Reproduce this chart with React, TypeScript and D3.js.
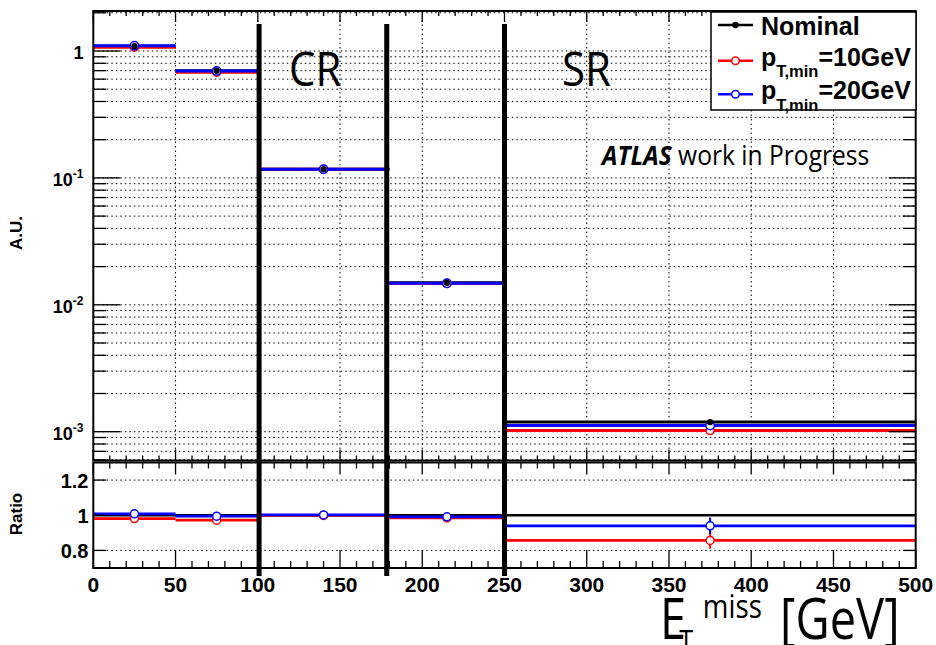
import React from "react";
import * as d3 from "d3";

// ---------- data ----------
const binEdges = [0, 50, 100, 180, 250, 500];
const binCenters = [25, 75, 140, 215, 375];
const nominal = [1.09, 0.70, 0.117, 0.0149, 0.00119];
const pt10 = [1.07, 0.68, 0.117, 0.0147, 0.00102];
const pt20 = [1.10, 0.697, 0.117, 0.0148, 0.00112];
const ratio10 = [0.981, 0.972, 0.999, 0.985, 0.857];
const ratio20 = [1.008, 0.995, 1.002, 0.991, 0.94];
const ratio10Err = [0.004, 0.005, 0.003, 0.012, 0.047];
const ratio20Err = [0.004, 0.005, 0.003, 0.01, 0.047];
const regionLines = [100.8, 178.4, 250];
const xMajorTicks = [0, 50, 100, 150, 200, 250, 300, 350, 400, 450, 500];
const ratioTicks = [0.8, 1, 1.2];
const legendLabels = ["Nominal", "=10GeV", "=20GeV"];

const W = 936;
const H = 645;
const L = 93.3;
const R = 915.7;
const T1 = 11;
const B1 = 460.5;
const T2 = 462.5;
const B2 = 568;

const x = d3.scaleLinear().domain([0, 500]).range([L, R]);
const yTop = d3.scaleLog().domain([5.93e-4, 2.066]).range([B1, T1]);
const yRat = d3.scaleLinear().domain([0.7, 1.3]).range([B2, T2]);

const ROOTF = "'Liberation Sans', Arial, sans-serif";
const OVF = "'Open Sans', 'Noto Sans', sans-serif";
const DOT = "1.5,3";

const xMinor = d3.range(0, 501, 10).filter((v) => v % 50 !== 0);
const logTicks = yTop.ticks();
const isMajorLog = (v: number) => Math.abs(Math.log10(v) - Math.round(Math.log10(v))) < 1e-6;

function Bins({ vals, y, color, width }: { vals: number[]; y: (v: number) => number; color: string; width: number }) {
  return (
    <g>
      {vals.map((v, i) => (
        <line key={i} x1={x(binEdges[i])} x2={x(binEdges[i + 1])} y1={y(v)} y2={y(v)} stroke={color} strokeWidth={width} />
      ))}
    </g>
  );
}

export default function App() {
  const upperSuper = (v: number) => Math.round(Math.log10(v));
  return (
    <svg width={W} height={H} style={{ position: "absolute", left: 0, top: 0, background: "#fff" }}>
      <rect x={0} y={0} width={W} height={H} fill="#fff" />

      {/* ---------- upper panel grid ---------- */}
      <g stroke="#000" strokeWidth={1} strokeDasharray={DOT}>
        {logTicks.map((v, i) => (
          <line key={"h" + i} x1={L} x2={R} y1={yTop(v)} y2={yTop(v)} />
        ))}
        {xMajorTicks.slice(1, -1).map((v) => (
          <line key={"v" + v} x1={x(v)} x2={x(v)} y1={T1} y2={B1} />
        ))}
      </g>

      {/* ---------- upper panel histograms ---------- */}
      <Bins vals={nominal} y={yTop} color="#000" width={3} />
      <Bins vals={pt10} y={yTop} color="#ff0000" width={3} />
      <Bins vals={pt20} y={yTop} color="#0000ff" width={3} />
      {pt10.map((v, i) => (
        <circle key={"r" + i} cx={x(binCenters[i])} cy={yTop(v)} r={4} fill="#fff" stroke="#ff0000" strokeWidth={1.5} />
      ))}
      {pt20.map((v, i) => (
        <circle key={"b" + i} cx={x(binCenters[i])} cy={yTop(v)} r={4.2} fill="#fff" stroke="#0000ff" strokeWidth={1.5} />
      ))}
      {nominal.map((v, i) => (
        <circle key={"n" + i} cx={x(binCenters[i])} cy={yTop(v)} r={3.2} fill="#000" />
      ))}

      {/* ---------- upper panel frame & ticks ---------- */}
      <g stroke="#000" strokeWidth={1.3}>
        {logTicks.map((v, i) => {
          const len = isMajorLog(v) ? 27 : 13;
          return (
            <g key={"yt" + i}>
              <line x1={L} x2={L + len} y1={yTop(v)} y2={yTop(v)} />
              <line x1={R} x2={R - len} y1={yTop(v)} y2={yTop(v)} />
            </g>
          );
        })}
        {xMajorTicks.map((v) => (
          <g key={"xt" + v}>
            <line x1={x(v)} x2={x(v)} y1={B1} y2={B1 - 11} />
            <line x1={x(v)} x2={x(v)} y1={T1} y2={T1 + 11} />
          </g>
        ))}
        {xMinor.map((v) => (
          <g key={"xm" + v}>
            <line x1={x(v)} x2={x(v)} y1={B1} y2={B1 - 5} />
            <line x1={x(v)} x2={x(v)} y1={T1} y2={T1 + 5} />
          </g>
        ))}
      </g>
      <rect x={L} y={T1} width={R - L} height={B1 - T1} fill="none" stroke="#000" strokeWidth={2} />

      {/* upper y labels */}
      <g fontFamily={ROOTF} fontWeight="bold" fill="#000">
        {logTicks.filter(isMajorLog).map((v) => {
          const p = upperSuper(v);
          if (p === 0) {
            return (
              <text key={"yl" + p} x={83.5} y={yTop(v) + 8} textAnchor="end" fontSize={18}>
                1
              </text>
            );
          }
          return (
            <text key={"yl" + p} x={83.5} y={yTop(v) + 8} textAnchor="end" fontSize={18}>
              10
              <tspan fontSize={12} dy={-7.5}>{String(p)}</tspan>
            </text>
          );
        })}
        <text transform="translate(21.5,233) rotate(-90)" textAnchor="middle" fontSize={17}>
          A.U.
        </text>
      </g>

      {/* ---------- lower panel ---------- */}
      <g stroke="#000" strokeWidth={1} strokeDasharray={DOT}>
        {ratioTicks.filter((v) => v !== 1).map((v) => (
          <line key={"rg" + v} x1={L} x2={R} y1={yRat(v)} y2={yRat(v)} />
        ))}
      </g>
      <line x1={x(0)} x2={x(500)} y1={yRat(1)} y2={yRat(1)} stroke="#000" strokeWidth={2.5} />
      <Bins vals={ratio10} y={yRat} color="#ff0000" width={2.8} />
      <Bins vals={ratio20} y={yRat} color="#0000ff" width={2.8} />
      {ratio10.map((v, i) => (
        <line key={"re" + i} x1={x(binCenters[i])} x2={x(binCenters[i])} y1={yRat(v - ratio10Err[i])} y2={yRat(v + ratio10Err[i])} stroke="#ff0000" strokeWidth={2} />
      ))}
      {ratio20.map((v, i) => (
        <line key={"be" + i} x1={x(binCenters[i])} x2={x(binCenters[i])} y1={yRat(v - ratio20Err[i])} y2={yRat(v + ratio20Err[i])} stroke="#0000ff" strokeWidth={2} />
      ))}
      {ratio10.map((v, i) => (
        <circle key={"rc" + i} cx={x(binCenters[i])} cy={yRat(v)} r={4} fill="#fff" stroke="#ff0000" strokeWidth={1.5} />
      ))}
      {ratio20.map((v, i) => (
        <circle key={"bc" + i} cx={x(binCenters[i])} cy={yRat(v)} r={4} fill="#fff" stroke="#0000ff" strokeWidth={1.5} />
      ))}

      <g stroke="#000" strokeWidth={1.3}>
        {ratioTicks.map((v) => (
          <g key={"rt" + v}>
            <line x1={L} x2={L + 13} y1={yRat(v)} y2={yRat(v)} />
            <line x1={R} x2={R - 13} y1={yRat(v)} y2={yRat(v)} />
          </g>
        ))}
        {xMajorTicks.map((v) => (
          <g key={"rxt" + v}>
            <line x1={x(v)} x2={x(v)} y1={B2} y2={B2 - 18} />
            <line x1={x(v)} x2={x(v)} y1={T2} y2={T2 + 12} />
          </g>
        ))}
        {xMinor.map((v) => (
          <g key={"rxm" + v}>
            <line x1={x(v)} x2={x(v)} y1={B2} y2={B2 - 7} />
            <line x1={x(v)} x2={x(v)} y1={T2} y2={T2 + 6} />
          </g>
        ))}
      </g>
      <rect x={L} y={T2} width={R - L} height={B2 - T2} fill="none" stroke="#000" strokeWidth={2} />

      <g fontFamily={ROOTF} fontWeight="bold" fill="#000">
        {ratioTicks.map((v) => (
          <text key={"rl" + v} x={88.5} y={yRat(v) + 8} textAnchor="end" fontSize={20}>
            {v === 1 ? "1" : d3.format(".1f")(v)}
          </text>
        ))}
        {xMajorTicks.map((v) => (
          <text key={"xl" + v} x={x(v)} y={591.5} textAnchor="middle" fontSize={21}>
            {String(v)}
          </text>
        ))}
        <text transform="translate(22,514) rotate(-90)" textAnchor="middle" fontSize={17}>
          Ratio
        </text>
      </g>

      {/* ---------- region boundaries ---------- */}
      {regionLines.map((v) => (
        <line key={"reg" + v} x1={x(v)} x2={x(v)} y1={24} y2={576} stroke="#000" strokeWidth={5} />
      ))}

      {/* ---------- overlay texts ---------- */}
      <g fontFamily={OVF} fill="#000">
        <text transform="translate(289,86) scale(1,1.12)" fontSize={42}>CR</text>
        <text transform="translate(562,86) scale(1,1.12)" fontSize={42}>SR</text>
        <text transform="translate(602,165) scale(1,1.12)" fontSize={24.6}>
          <tspan fontWeight="bold" fontStyle="italic">ATLAS</tspan>
          <tspan> work in Progress</tspan>
        </text>
        <g transform="translate(660,639) scale(0.84,1)">
          <text x={0} y={0} fontSize={56}>E</text>
          <text x={23} y={12} fontSize={30}>T</text>
          <text x={51} y={-21} fontSize={33}>miss</text>
          <text x={143} y={0} fontSize={56}>[GeV]</text>
        </g>
      </g>

      {/* ---------- legend ---------- */}
      <rect x={711} y={12} width={205} height={98} fill="#fff" stroke="#000" strokeWidth={1.5} />
      <g>
        <line x1={718} x2={753} y1={25} y2={25} stroke="#000" strokeWidth={2.5} />
        <circle cx={735.5} cy={25} r={3.2} fill="#000" />
        <line x1={718} x2={753} y1={60.7} y2={60.7} stroke="#ff0000" strokeWidth={2.5} />
        <circle cx={735.5} cy={60.7} r={3.8} fill="#fff" stroke="#ff0000" strokeWidth={1.5} />
        <line x1={718} x2={753} y1={94.3} y2={94.3} stroke="#0000ff" strokeWidth={2.5} />
        <circle cx={735.5} cy={94.3} r={3.8} fill="#fff" stroke="#0000ff" strokeWidth={1.5} />
      </g>
      <g fontFamily={ROOTF} fontWeight="bold" fill="#000">
        <text x={761} y={35} fontSize={25}>{legendLabels[0]}</text>
        <text x={761} y={65.7} fontSize={25}>
          p<tspan fontSize={16.5} dy={11.5}>T,min</tspan>
          <tspan fontSize={25} dy={-11.5}>{legendLabels[1]}</tspan>
        </text>
        <text x={761} y={99} fontSize={25}>
          p<tspan fontSize={16.5} dy={11.5}>T,min</tspan>
          <tspan fontSize={25} dy={-11.5}>{legendLabels[2]}</tspan>
        </text>
      </g>
    </svg>
  );
}
